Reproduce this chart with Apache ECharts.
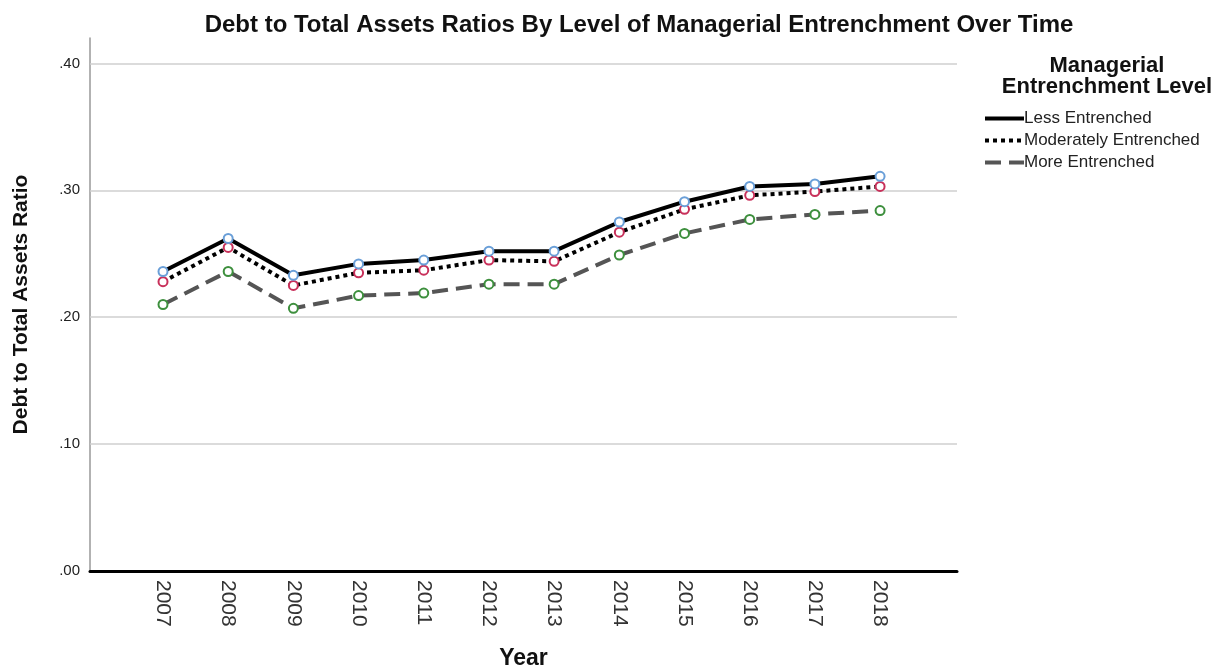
<!DOCTYPE html>
<html><head><meta charset="utf-8">
<script src="https://cdn.jsdelivr.net/npm/echarts@6/dist/echarts.min.js"></script>
<style>html,body{margin:0;padding:0;background:#fff}#c{width:1225px;height:669px}</style>
</head><body><div id="c"></div>
<script>
var years = [2007,2008,2009,2010,2011,2012,2013,2014,2015,2016,2017,2018];
var lessEntrenched = [0.236,0.262,0.233,0.242,0.245,0.252,0.252,0.275,0.291,0.303,0.305,0.311];
var moderatelyEntrenched = [0.228,0.255,0.225,0.235,0.237,0.245,0.244,0.267,0.285,0.296,0.299,0.303];
var moreEntrenched = [0.210,0.236,0.207,0.217,0.219,0.226,0.226,0.249,0.266,0.277,0.281,0.284];
var yTicks = [0, 0.1, 0.2, 0.3, 0.4];

function pairs(v){ return years.map(function(y,i){ return [y, v[i]]; }); }
var font = 'Liberation Sans, Arial, sans-serif';
var chart = echarts.init(document.getElementById('c'));
chart.setOption({
  animation:false,
  title:[{
    text:'Debt to Total Assets Ratios By Level of Managerial Entrenchment Over Time',
    left:634, top:8, textAlign:'center',
    textStyle:{fontFamily:font, fontSize:24, fontWeight:'bold', color:'#111'}
  },{
    text:'Managerial\nEntrenchment Level',
    left:1102, top:50, textAlign:'center',
    textStyle:{fontFamily:font, fontSize:22, fontWeight:'bold', color:'#111', lineHeight:21}
  }],
  legend:{
    orient:'vertical', left:978, top:105, itemGap:5, itemWidth:39, itemHeight:18,
    itemStyle:{opacity:0},
    lineStyle:{width:4},
    textStyle:{fontFamily:font, fontSize:17, color:'#222', padding:[0,0,0,-5]},
    data:['Less Entrenched','Moderately Entrenched','More Entrenched']
  },
  grid:{left:90, right:268, top:38, bottom:98, outerBoundsMode:'none', containLabel:false},
  xAxis:{
    type:'value', min:2005.88, max:2019.18,
    name:'Year', nameLocation:'middle', nameGap:76,
    nameTextStyle:{fontFamily:font, fontSize:23, fontWeight:'bold', color:'#111'},
    axisLine:{show:true, lineStyle:{color:'#000', width:3}},
    axisTick:{show:false},
    splitLine:{show:false},
    axisLabel:{customValues:years, rotate:-90, margin:9, fontFamily:font, fontSize:21, color:'#333',
      formatter:function(v){return String(v);}}
  },
  yAxis:{
    type:'value', min:0, max:0.42,
    name:'Debt to Total Assets Ratio', nameLocation:'middle', nameGap:58,
    nameTextStyle:{fontFamily:font, fontSize:21, fontWeight:'bold', color:'#111'},
    axisLine:{show:true, lineStyle:{color:'#999', width:1.5}},
    axisTick:{show:false},
    splitLine:{show:false},
    axisLabel:{customValues:yTicks, margin:10, fontFamily:font, fontSize:15, color:'#222',
      formatter:function(v){return v.toFixed(2).replace(/^0/,'');}}
  },
  series:[{
    name:'More Entrenched', type:'line', data:pairs(moreEntrenched), z:2,
    symbol:'emptyCircle', symbolSize:9,
    lineStyle:{color:'#555', width:4, type:'dashed'},
    itemStyle:{color:'#3d8f3d', borderWidth:1.3},
    markLine:{silent:true, symbol:'none', z:1, label:{show:false},
      lineStyle:{color:'#cfcfcf', width:1.5, type:'solid'},
      data:yTicks.slice(1).map(function(t){return {yAxis:t};})}
  },{
    name:'Moderately Entrenched', type:'line', data:pairs(moderatelyEntrenched), z:3,
    symbol:'emptyCircle', symbolSize:9,
    lineStyle:{color:'#000', width:4, type:'dotted'},
    itemStyle:{color:'#c8305a', borderWidth:1.3}
  },{
    name:'Less Entrenched', type:'line', data:pairs(lessEntrenched), z:4,
    symbol:'emptyCircle', symbolSize:9,
    lineStyle:{color:'#000', width:4, type:'solid'},
    itemStyle:{color:'#6a9fd8', borderWidth:1.3}
  }]
});
</script></body></html>
